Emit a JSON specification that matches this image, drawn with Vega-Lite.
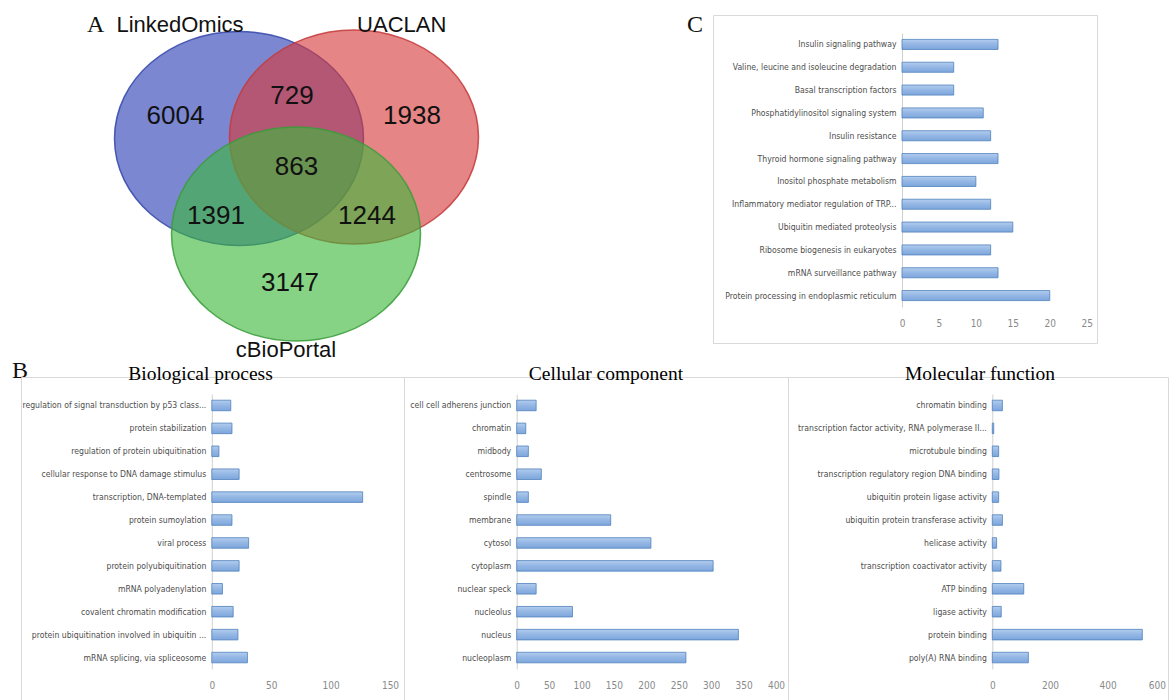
{
  "$schema": "https://vega.github.io/schema/vega-lite/v6.json",
  "padding": {"left": 12, "top": 13, "right": 0, "bottom": 0},
  "background": "white",
  "columns": 1,
  "align": "none",
  "spacing": -20,
  "datasets": {
    "sets": [
      {"set": "LinkedOmics", "u": 21.8, "v": 12.35},
      {"set": "UACLAN", "u": 33.3, "v": 12.2},
      {"set": "cBioPortal", "u": 27.5, "v": 21.9}
    ],
    "counts": [
      {"label": "6004", "u": 15.45, "v": 10.9},
      {"label": "729", "u": 27.1, "v": 8.9},
      {"label": "1938", "u": 39.1, "v": 10.9},
      {"label": "863", "u": 27.55, "v": 16.0},
      {"label": "1391", "u": 19.5, "v": 20.9},
      {"label": "1244", "u": 34.6, "v": 20.9},
      {"label": "3147", "u": 26.9, "v": 27.6}
    ],
    "names": [
      {"label": "LinkedOmics", "u": 15.9, "v": 1.7},
      {"label": "UACLAN", "u": 38.07, "v": 1.7},
      {"label": "cBioPortal", "u": 26.5, "v": 34.2}
    ],
    "letters": [
      {"label": "A", "u": 6.6, "v": 1.7},
      {"label": "C", "u": 66.6, "v": 1.7},
      {"label": "B", "u": -0.9, "v": 36.3}
    ],
    "kegg": [
      {"term": "Insulin signaling pathway", "count": 13},
      {"term": "Valine, leucine and isoleucine degradation", "count": 7},
      {"term": "Basal transcription factors", "count": 7},
      {"term": "Phosphatidylinositol signaling system", "count": 11},
      {"term": "Insulin resistance", "count": 12},
      {"term": "Thyroid hormone signaling pathway", "count": 13},
      {"term": "Inositol phosphate metabolism", "count": 10},
      {"term": "Inflammatory mediator regulation of TRP...", "count": 12},
      {"term": "Ubiquitin mediated proteolysis", "count": 15},
      {"term": "Ribosome biogenesis in eukaryotes", "count": 12},
      {"term": "mRNA surveillance pathway", "count": 13},
      {"term": "Protein processing in endoplasmic reticulum", "count": 20}
    ],
    "bp": [
      {"term": "regulation of signal transduction by p53 class...", "count": 16},
      {"term": "protein stabilization", "count": 17},
      {"term": "regulation of protein ubiquitination", "count": 6},
      {"term": "cellular response to DNA damage stimulus", "count": 23},
      {"term": "transcription, DNA-templated", "count": 127},
      {"term": "protein sumoylation", "count": 17},
      {"term": "viral process", "count": 31},
      {"term": "protein polyubiquitination", "count": 23},
      {"term": "mRNA polyadenylation", "count": 9},
      {"term": "covalent chromatin modification", "count": 18},
      {"term": "protein ubiquitination involved in ubiquitin ...", "count": 22},
      {"term": "mRNA splicing, via spliceosome", "count": 30}
    ],
    "cc": [
      {"term": "cell cell adherens junction", "count": 30},
      {"term": "chromatin", "count": 14},
      {"term": "midbody", "count": 18},
      {"term": "centrosome", "count": 38},
      {"term": "spindle", "count": 18},
      {"term": "membrane", "count": 145},
      {"term": "cytosol", "count": 207},
      {"term": "cytoplasm", "count": 303},
      {"term": "nuclear speck", "count": 30},
      {"term": "nucleolus", "count": 86},
      {"term": "nucleus", "count": 342},
      {"term": "nucleoplasm", "count": 261}
    ],
    "mf": [
      {"term": "chromatin binding", "count": 35},
      {"term": "transcription factor activity, RNA polymerase II...", "count": 5},
      {"term": "microtubule binding", "count": 22},
      {"term": "transcription regulatory region DNA binding", "count": 23},
      {"term": "ubiquitin protein ligase activity", "count": 22},
      {"term": "ubiquitin protein transferase activity", "count": 35},
      {"term": "helicase activity", "count": 15},
      {"term": "transcription coactivator activity", "count": 30},
      {"term": "ATP binding", "count": 109},
      {"term": "ligase activity", "count": 31},
      {"term": "protein binding", "count": 520},
      {"term": "poly(A) RNA binding", "count": 125}
    ]
  },
  "concat": [
    {
      "bounds": "flush",
      "spacing": 0,
      "hconcat": [
        {
          "width": 692,
          "height": 328,
          "view": {"stroke": null},
          "encoding": {
            "x": {"field": "u", "type": "quantitative", "scale": {"domain": [0, 69.2], "nice": false, "zero": false}, "axis": null},
            "y": {"field": "v", "type": "quantitative", "scale": {"domain": [0, 32.8], "nice": false, "zero": false, "reverse": true}, "axis": null}
          },
          "layer": [
            {
              "data": {"name": "sets"},
              "mark": {"type": "point", "filled": true, "shape": "M -1 0 A 1 0.86 0 1 1 1 0 A 1 0.86 0 1 1 -1 0 Z", "size": 62001, "fillOpacity": 0.62, "strokeOpacity": 0.85, "strokeWidth": 1.5},
              "encoding": {
                "fill": {"field": "set", "type": "nominal", "scale": {"domain": ["LinkedOmics", "UACLAN", "cBioPortal"], "range": ["#2a3db5", "#d73a3a", "#3cb83c"]}, "legend": null},
                "stroke": {"field": "set", "type": "nominal", "scale": {"domain": ["LinkedOmics", "UACLAN", "cBioPortal"], "range": ["#3446a8", "#c43a3a", "#3a9c3a"]}, "legend": null}
              }
            },
            {
              "data": {"name": "counts"},
              "mark": {"type": "text", "font": "Liberation Sans", "fontSize": 26, "color": "#111111", "align": "center", "baseline": "alphabetic"},
              "encoding": {"text": {"field": "label", "type": "nominal"}}
            },
            {
              "data": {"name": "names"},
              "mark": {"type": "text", "font": "Liberation Sans", "fontSize": 22, "color": "#111111", "align": "center", "baseline": "alphabetic"},
              "encoding": {"text": {"field": "label", "type": "nominal"}}
            },
            {
              "data": {"name": "letters"},
              "mark": {"type": "text", "font": "Liberation Serif", "fontSize": 24, "color": "#111111", "align": "left", "baseline": "alphabetic"},
              "encoding": {"text": {"field": "label", "type": "nominal"}}
            }
          ]
        },
        {
          "width": 384,
          "height": 328,
          "view": {"stroke": "#d9d9d9"},
          "data": {"name": "kegg"},
          "mark": {"type": "bar", "fill": {"gradient": "linear", "x1": 0, "y1": 0, "x2": 0, "y2": 1, "stops": [{"offset": 0, "color": "#b3cdee"}, {"offset": 0.5, "color": "#93b6e4"}, {"offset": 1, "color": "#7ea6dc"}]}, "stroke": "#4f81bd", "strokeWidth": 0.8},
          "encoding": {
            "y": {"field": "term", "type": "nominal", "sort": null, "title": null, "scale": {"range": [18, 292], "paddingInner": 0.56, "paddingOuter": 0.28}, "axis": {"offset": -189}},
            "x": {"field": "count", "type": "quantitative", "title": null, "scale": {"domain": [-25.585, 26.398], "nice": false, "zero": false}, "axis": {"values": [0, 5, 10, 15, 20, 25], "offset": -25}}
          }
        }
      ]
    },
    {
      "bounds": "flush",
      "spacing": 0,
      "hconcat": [
        {
          "width": 383,
          "height": 323,
          "view": {"stroke": "#d9d9d9"},
          "title": {"text": "Biological process", "dx": -12},
          "data": {"name": "bp"},
          "mark": {"type": "bar", "fill": {"gradient": "linear", "x1": 0, "y1": 0, "x2": 0, "y2": 1, "stops": [{"offset": 0, "color": "#b3cdee"}, {"offset": 0.5, "color": "#93b6e4"}, {"offset": 1, "color": "#7ea6dc"}]}, "stroke": "#4f81bd", "strokeWidth": 0.8},
          "encoding": {
            "y": {"field": "term", "type": "nominal", "sort": null, "title": null, "scale": {"range": [17, 292], "paddingInner": 0.54, "paddingOuter": 0.27}, "axis": {"offset": -190.8}},
            "x": {"field": "count", "type": "quantitative", "title": null, "scale": {"domain": [-160.6, 161.8], "nice": false, "zero": false}, "axis": {"values": [0, 50, 100, 150], "offset": -19.5}}
          }
        },
        {
          "width": 384,
          "height": 323,
          "view": {"stroke": "#d9d9d9"},
          "title": {"text": "Cellular component", "dx": 10},
          "data": {"name": "cc"},
          "mark": {"type": "bar", "fill": {"gradient": "linear", "x1": 0, "y1": 0, "x2": 0, "y2": 1, "stops": [{"offset": 0, "color": "#b3cdee"}, {"offset": 0.5, "color": "#93b6e4"}, {"offset": 1, "color": "#7ea6dc"}]}, "stroke": "#4f81bd", "strokeWidth": 0.8},
          "encoding": {
            "y": {"field": "term", "type": "nominal", "sort": null, "title": null, "scale": {"range": [17, 292], "paddingInner": 0.54, "paddingOuter": 0.27}, "axis": {"offset": -112.7}},
            "x": {"field": "count", "type": "quantitative", "title": null, "scale": {"domain": [-173.85, 418.5], "nice": false, "zero": false}, "axis": {"values": [0, 50, 100, 150, 200, 250, 300, 350, 400], "offset": -19.5}}
          }
        },
        {
          "width": 380,
          "height": 323,
          "view": {"stroke": "#d9d9d9"},
          "title": {"text": "Molecular function", "dx": 2},
          "data": {"name": "mf"},
          "mark": {"type": "bar", "fill": {"gradient": "linear", "x1": 0, "y1": 0, "x2": 0, "y2": 1, "stops": [{"offset": 0, "color": "#b3cdee"}, {"offset": 0.5, "color": "#93b6e4"}, {"offset": 1, "color": "#7ea6dc"}]}, "stroke": "#4f81bd", "strokeWidth": 0.8},
          "encoding": {
            "y": {"field": "term", "type": "nominal", "sort": null, "title": null, "scale": {"range": [17, 292], "paddingInner": 0.54, "paddingOuter": 0.27}, "axis": {"offset": -204.3}},
            "x": {"field": "count", "type": "quantitative", "title": null, "scale": {"domain": [-708.1, 609.0], "nice": false, "zero": false}, "axis": {"values": [0, 200, 400, 600], "offset": -19.5, "labelFlush": 5}}
          }
        }
      ]
    }
  ],
  "config": {
    "axisY": {"domainColor": "#d0d0d0", "domainWidth": 1, "labelColor": "#4d4d4d", "labelFont": "DejaVu Sans Condensed, sans-serif", "labelFontSize": 8.6, "ticks": false, "tickSize": 0, "labelPadding": 6, "grid": false, "labelLimit": 400},
    "axisX": {"domain": false, "ticks": false, "tickSize": 0, "grid": false, "labelColor": "#8a8a8a", "labelFont": "DejaVu Sans Condensed, sans-serif", "labelFontSize": 10, "labelPadding": 0, "labelBaseline": "top"},
    "title": {"font": "Liberation Serif", "fontSize": 19.5, "fontWeight": "normal", "color": "#000000", "anchor": "middle", "frame": "group", "offset": -7, "baseline": "alphabetic"}
  }
}
